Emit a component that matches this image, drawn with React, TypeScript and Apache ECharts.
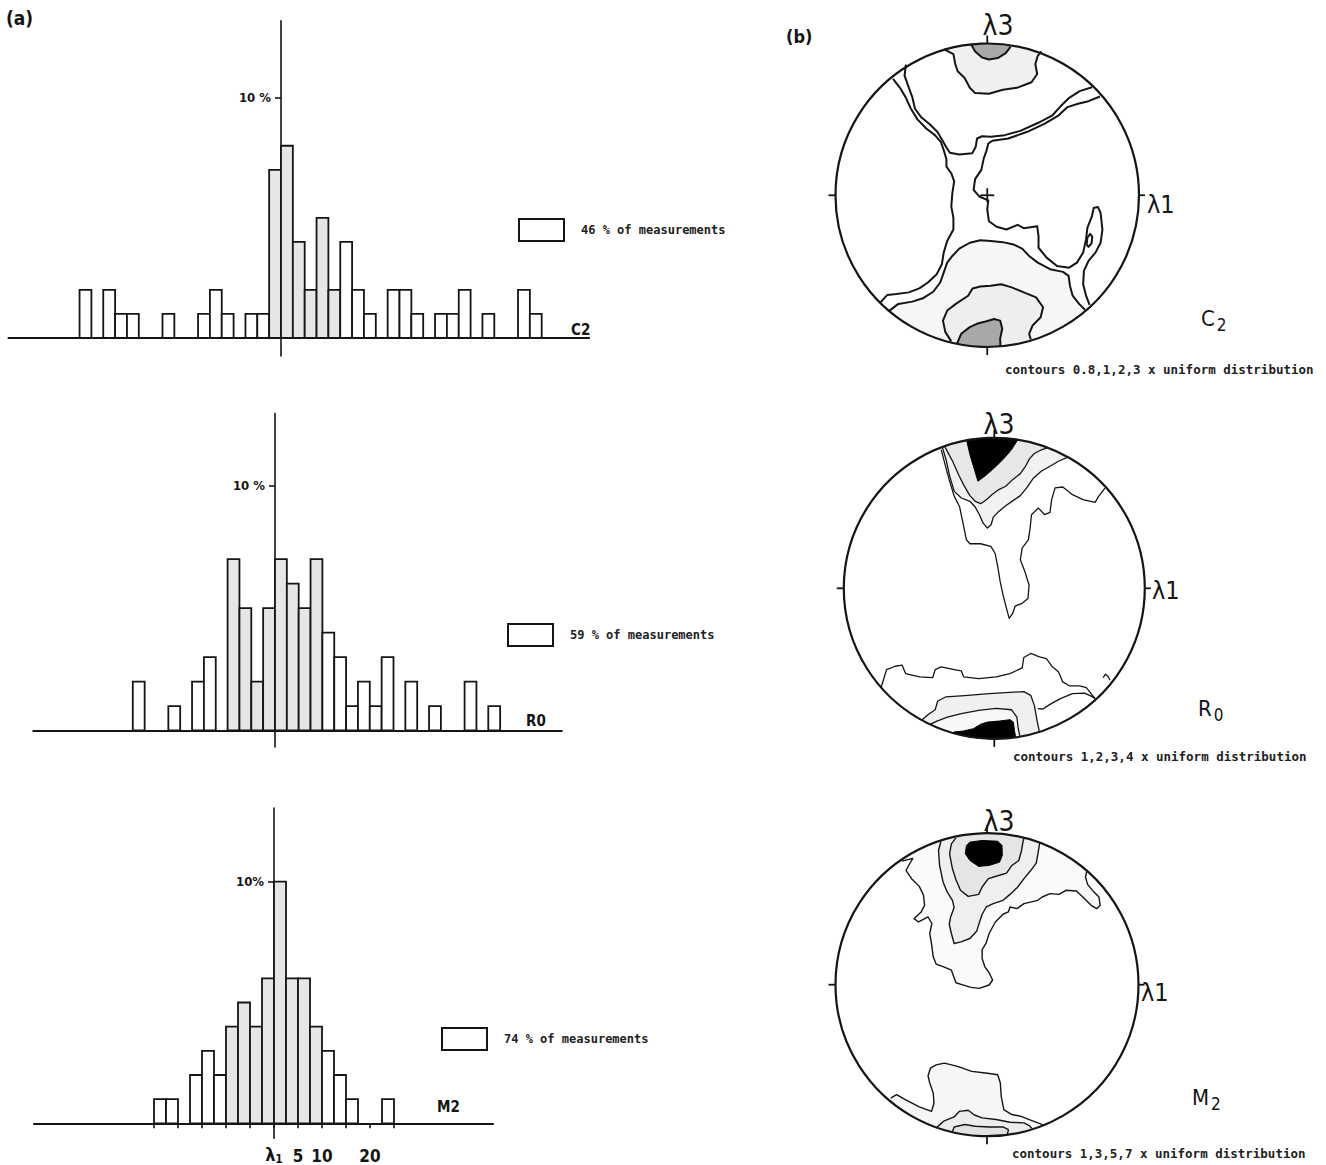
import React, { useEffect, useRef } from 'react';
import * as echarts from 'echarts';

// ---------------- Histogram data (bin index relative to λ1, % of measurements) -------------
const C2_BINS = [-17, -15, -14, -13, -10, -7, -6, -5, -3, -2, -1, 0, 1, 2, 3, 4, 5, 6, 7, 9, 10, 11, 13, 14, 15, 17, 20, 21];
const C2_VALUES = [2, 2, 1, 1, 1, 1, 2, 1, 1, 1, 7, 8, 4, 2, 5, 2, 4, 2, 1, 2, 2, 1, 1, 1, 2, 1, 2, 1];
const C2_SHADED = [-1, 0, 1, 2, 3, 4];

const R0_BINS = [-12, -9, -7, -6, -4, -3, -2, -1, 0, 1, 2, 3, 4, 5, 6, 7, 8, 9, 11, 13, 16, 18];
const R0_VALUES = [2, 1, 2, 3, 7, 5, 2, 5, 7, 6, 5, 7, 4, 3, 1, 2, 1, 3, 2, 1, 2, 1];
const R0_SHADED = [-4, -3, -2, -1, 0, 1, 2, 3];

const M2_BINS = [-10, -9, -7, -6, -5, -4, -3, -2, -1, 0, 1, 2, 3, 4, 5, 6, 9];
const M2_VALUES = [1, 1, 2, 3, 2, 4, 5, 4, 6, 10, 6, 6, 4, 3, 2, 1, 1];
const M2_SHADED = [-4, -3, -2, -1, 0, 1, 2, 3];

const M2_TICKS = [-10, -8, -6, -4, -2, 0, 2, 4, 6, 8, 10];
const M2_LABEL_VALUES = [2, 4, 8];
const M2_LABEL_TEXT = ['5', '10', '20'];

const LEGEND_TEXT = ['46 % of measurements', '59 % of measurements', '74 % of measurements'];

// ---------------- Stereonet contours (percent of net radius, x east, y north) -------------
const C2_CAP_TOP = [[-10.8, 99.6], [-8.0, 94.8], [-3.4, 90.8], [1.1, 89.5], [6.9, 90.4], [12.2, 93.7], [15.4, 98.0]];
const C2_T2 = [[-28.7, 96.3], [-22.3, 93.0], [-21.1, 86.5], [-19.5, 81.7], [-14.9, 77.3], [-11.5, 70.8], [-8.0, 67.3], [1.1, 66.9], [10.3, 69.5], [19.5, 70.8], [29.2, 74.5], [32.9, 79.9], [31.7, 86.5], [33.3, 91.9], [35.6, 94.8]];
const C2_L1 = [[-62.1, 76.7], [-57.5, 70.8], [-53.6, 64.2], [-50.3, 57.0], [-46.0, 50.0], [-40.2, 44.0], [-34.5, 39.6], [-30.6, 35.2], [-28.7, 29.8], [-26.9, 23.7], [-26.9, 18.9], [-23.7, 14.5], [-21.8, 9.1], [-23.0, 1.4], [-23.7, -7.3], [-22.3, -14.9], [-22.3, -22.6], [-26.4, -30.2], [-28.7, -37.8], [-29.9, -45.5], [-33.3, -52.0], [-39.1, -57.5], [-44.8, -61.4], [-51.7, -64.0], [-59.8, -65.1], [-66.0, -65.8], [-70.5, -70.8]];
const C2_L2 = [[-53.6, 86.0], [-54.5, 78.8], [-52.2, 72.3], [-49.4, 64.7], [-47.6, 57.0], [-43.7, 51.6], [-37.9, 46.8], [-32.9, 41.8], [-29.9, 36.8], [-26.9, 31.5], [-24.6, 28.0], [-18.4, 26.9], [-9.9, 27.6], [-7.6, 32.0], [-6.7, 37.4], [-3.4, 38.9], [2.3, 38.5], [11.5, 39.6], [21.8, 42.4], [33.3, 47.6], [43.0, 52.7], [48.3, 58.6], [54.0, 64.2], [60.9, 68.6], [69.0, 71.2]];
const C2_L3 = [[74.3, 65.1], [66.7, 62.0], [59.8, 60.3], [52.9, 58.1], [47.1, 52.7], [37.9, 47.2], [26.4, 41.8], [13.8, 37.4], [3.4, 35.9], [0.7, 34.1], [-0.7, 28.7], [-2.3, 24.3], [-3.9, 16.7], [-8.0, 10.6], [-9.0, 3.6], [-5.3, -0.8], [0.7, -3.4], [0, -9.5], [1.1, -17.1], [6.2, -20.8], [12.6, -22.6], [20.0, -19.5], [24.1, -21.7], [32.9, -20.4], [33.8, -26.9], [33.8, -34.6], [39.1, -41.1], [46.0, -46.6], [54.0, -47.7], [59.1, -44.4], [63.2, -37.8], [65.1, -29.1], [66.0, -21.5], [69.0, -13.8], [70.1, -8.4], [72.9, -7.7], [74.7, -11.7], [75.9, -22.6], [74.7, -31.3], [71.3, -37.8], [66.7, -43.3], [63.7, -49.8], [63.2, -58.6], [65.1, -66.2], [67.4, -72.3]];
const C2_LOOP = [[65.5, -32.4], [66.0, -28.0], [67.8, -25.4], [69.2, -27.4], [68.7, -31.8], [66.7, -34.0], [65.5, -32.4]];
const C2_L5 = [[-64.4, -76.0], [-58.6, -71.6], [-49.4, -70.1], [-42.5, -67.9], [-35.6, -63.6], [-31.0, -57.5], [-28.3, -49.8], [-26.4, -44.4], [-23.0, -40.0], [-18.4, -35.2], [-11.5, -31.3], [-4.6, -29.6], [2.3, -30.2], [10.3, -30.9], [17.2, -32.4], [23.0, -35.2], [27.6, -40.0], [33.3, -44.4], [41.4, -48.7], [49.9, -50.5], [53.6, -53.1], [54.5, -59.6], [56.3, -66.2], [60.5, -71.6], [64.4, -75.4]];
const C2_L6 = [[-23.7, -96.3], [-27.6, -90.2], [-29.2, -82.6], [-26.4, -76.0], [-20.7, -71.6], [-12.6, -66.2], [-9.7, -61.4], [-4.6, -60.1], [2.3, -59.6], [9.2, -58.6], [16.1, -60.7], [24.1, -64.0], [32.2, -67.3], [36.8, -73.8], [35.2, -80.4], [29.9, -85.8], [27.6, -91.3], [28.7, -95.0]];
const C2_L7 = [[-20.0, -97.9], [-17.2, -91.3], [-11.5, -86.9], [-6.9, -84.7], [-1.1, -83.2], [4.6, -81.5], [8.5, -82.6], [9.9, -88.0], [8.5, -94.5], [8.7, -99.3]];

const R0_BLACK_TOP = [[-18.5, 98.9], [-16.2, 88.9], [-13.2, 78.9], [-10.9, 71.1], [-5.8, 74.9], [0, 80.0], [5.8, 85.6], [11.5, 92.2], [15.7, 98.9]];
const R0_T3 = [[-33.0, 94.4], [-30.7, 90.0], [-27.7, 84.4], [-23.8, 75.6], [-20.1, 68.2], [-16.2, 61.6], [-12.7, 57.8], [-9.0, 56.2], [-5.3, 58.9], [-1.6, 62.2], [3.0, 65.6], [7.6, 67.8], [12.2, 72.2], [17.3, 76.2], [20.8, 81.1], [23.3, 86.0], [26.6, 89.6], [31.6, 92.2], [35.3, 93.3]];
const R0_T2 = [[-34.4, 93.3], [-32.1, 85.6], [-29.6, 74.4], [-26.6, 64.4], [-21.9, 60.0], [-16.2, 57.8], [-12.7, 54.0], [-9.9, 48.9], [-7.4, 43.3], [-4.6, 40.0], [-2.1, 42.2], [-0.7, 47.3], [3.0, 51.1], [7.6, 54.9], [12.7, 58.4], [17.3, 61.6], [21.5, 66.7], [26.1, 73.3], [31.2, 77.8], [37.0, 81.1], [42.7, 84.4], [49.2, 87.3]];
const R0_T1 = [[-35.3, 92.2], [-33.0, 83.3], [-30.0, 72.2], [-26.6, 61.1], [-23.1, 54.4], [-20.8, 43.3], [-18.5, 32.2], [-16.2, 29.6], [-9.2, 29.6], [-2.3, 27.8], [0.5, 23.3], [2.3, 14.4], [3.9, 4.4], [5.8, -4.4], [8.1, -13.3], [9.9, -20.0], [12.2, -16.7], [13.9, -11.8], [18.5, -10.0], [22.4, -6.7], [23.1, 2.2], [20.3, 11.1], [17.3, 18.9], [18.5, 26.7], [22.6, 32.2], [23.8, 40.0], [24.7, 48.9], [29.3, 53.3], [33.5, 48.9], [37.0, 50.4], [38.1, 58.9], [40.4, 66.7], [45.5, 67.3], [52.0, 62.2], [58.9, 58.9], [67.0, 57.1], [69.3, 61.1], [73.5, 66.5]];
const R0_B1 = [[-75.1, -65.6], [-71.6, -54.0], [-65.8, -51.8], [-61.2, -51.1], [-58.9, -56.7], [-49.7, -58.9], [-40.9, -59.3], [-39.3, -54.0], [-35.3, -52.2], [-26.6, -54.0], [-21.9, -54.9], [-20.3, -58.9], [-10.4, -60.0], [1.2, -58.9], [10.4, -56.7], [18.5, -52.9], [19.6, -46.0], [24.2, -43.3], [30.0, -45.6], [34.6, -46.7], [38.6, -52.2], [42.7, -55.6], [45.5, -62.2], [50.1, -64.9], [56.6, -64.9], [61.2, -66.0], [64.0, -69.6], [67.0, -73.3]];
const R0_CURL = [[72.3, -59.3], [73.9, -57.1], [75.5, -58.4], [76.9, -61.1]];
const R0_B2 = [[-48.5, -87.8], [-43.9, -83.8], [-39.3, -80.7], [-37.6, -74.9], [-32.3, -72.2], [-19.6, -71.3], [-3.5, -70.0], [10.4, -69.1], [19.6, -68.7], [24.2, -71.1], [26.6, -77.8], [28.4, -87.8], [30.0, -95.6]];
const R0_B2B = [[28.9, -80.0], [32.3, -80.2], [37.0, -77.1], [43.9, -73.3], [52.0, -70.0], [60.0, -69.6], [64.7, -71.8], [67.0, -73.3]];
const R0_B3 = [[-42.7, -90.4], [-38.1, -88.2], [-31.2, -85.6], [-21.9, -83.3], [-10.4, -81.1], [1.2, -79.8], [11.5, -80.7], [15.0, -85.6], [15.9, -93.3], [16.9, -97.8]];
const R0_BLACK_BOTTOM = [[-27.0, -95.5], [-20.8, -94.9], [-13.9, -93.3], [-9.2, -90.4], [-4.6, -88.9], [3.5, -88.2], [10.4, -87.3], [12.7, -88.9], [13.4, -94.4], [14.1, -98.4]];

const M2_BLACK = [[-13.6, 91.9], [-11.3, 94.1], [-3.2, 95.2], [7.1, 94.7], [9.9, 91.9], [10.1, 85.3], [8.3, 80.9], [1.4, 78.7], [-5.5, 78.1], [-11.3, 82.0], [-14.3, 86.4], [-13.6, 91.9]];
const M2_T5 = [[-20.5, 96.9], [-23.5, 93.0], [-24.7, 86.4], [-22.8, 76.5], [-20.5, 69.3], [-17.5, 62.3], [-12.4, 58.3], [-5.5, 59.6], [-3.2, 64.5], [0.9, 70.0], [7.1, 71.9], [12.9, 73.7], [16.4, 78.7], [21.0, 82.0], [22.8, 88.6], [23.7, 94.1], [24.4, 96.9]];
const M2_T3 = [[-30.4, 94.7], [-32.0, 88.6], [-31.3, 78.7], [-29.0, 67.8], [-26.3, 61.2], [-22.8, 55.7], [-21.7, 50.9], [-24.0, 44.7], [-24.9, 39.9], [-23.5, 33.8], [-21.7, 27.2], [-17.1, 28.3], [-11.3, 30.5], [-6.7, 35.5], [-5.1, 40.8], [-3.2, 46.5], [-0.5, 51.3], [4.1, 53.5], [10.6, 55.7], [15.2, 59.6], [20.3, 64.5], [24.4, 70.0], [28.6, 75.0], [32.5, 80.3], [33.6, 86.4], [34.8, 93.6]];
const M2_T1 = [[-56.2, 81.6], [-49.0, 83.4], [-51.5, 79.0], [-53.5, 75.4], [-49.8, 70.0], [-44.7, 64.9], [-41.9, 59.0], [-41.2, 52.4], [-43.5, 48.0], [-48.2, 43.6], [-45.2, 41.4], [-38.9, 44.7], [-36.4, 40.4], [-37.8, 33.8], [-36.6, 26.8], [-35.5, 18.4], [-33.6, 13.6], [-28.6, 11.8], [-23.5, 9.6], [-20.5, 1.3], [-17.1, 0.2], [-10.6, -1.8], [-5.1, -2.4], [1.4, -0.2], [3.7, 3.1], [1.4, 7.9], [-1.4, 11.8], [-3.2, 17.3], [-3.2, 23.2], [-0.5, 27.6], [1.4, 33.8], [5.5, 41.4], [10.6, 46.5], [14.1, 48.0], [15.2, 51.3], [19.8, 50.2], [24.4, 53.5], [33.6, 55.7], [36.4, 57.9], [41.7, 60.1], [47.5, 59.6], [52.1, 62.3], [59.0, 61.8], [63.6, 57.5], [68.7, 52.4], [72.4, 50.2], [74.7, 52.4], [73.9, 57.9], [70.0, 61.8], [66.4, 66.2], [65.0, 71.1], [65.9, 75.0]];
const M2_B1 = [[-63.6, -74.8], [-59.7, -72.6], [-53.9, -75.9], [-44.7, -80.7], [-36.6, -83.6], [-35.0, -78.1], [-35.5, -71.5], [-37.8, -64.9], [-38.9, -60.1], [-37.3, -55.0], [-33.6, -52.9], [-28.1, -51.8], [-19.4, -53.9], [-10.1, -57.2], [-0.9, -58.3], [7.1, -59.4], [8.8, -64.9], [9.4, -73.7], [11.1, -82.5], [16.4, -85.7], [22.1, -86.8], [27.9, -89.0], [33.6, -91.2], [38.2, -93.0]];
const M2_B3 = [[-33.0, -94.0], [-28.6, -90.1], [-21.7, -87.3], [-18.2, -83.6], [-12.4, -82.9], [-8.3, -86.0], [-3.2, -87.9], [6.0, -89.0], [15.2, -90.8], [24.4, -91.2], [27.9, -93.0], [29.5, -94.7]];
const M2_B5 = [[-22.8, -96.9], [-21.7, -93.9], [-14.7, -92.3], [-7.8, -93.4], [1.4, -93.9], [10.6, -93.9], [14.1, -95.6], [13.4, -99.1]];

// ---------------- styling constants ----------------
const INK = '#151515';
const NARROW = "'DejaVu Sans Condensed', 'Liberation Sans Narrow', 'DejaVu Sans', sans-serif";
const MONO = "'DejaVu Sans Mono', 'Liberation Mono', monospace";

function closeArc(pts: number[][]): number[][] {
  const a = pts[0];
  const b = pts[pts.length - 1];
  const ta = Math.atan2(a[1], a[0]);
  const tb = Math.atan2(b[1], b[0]);
  let d = ta - tb;
  while (d > Math.PI) d -= 2 * Math.PI;
  while (d < -Math.PI) d += 2 * Math.PI;
  const n = Math.max(2, Math.ceil(Math.abs(d) / 0.03));
  const arc: number[][] = [];
  for (let i = 0; i <= n; i++) {
    const t = tb + (d * i) / n;
    arc.push([100 * Math.cos(t), 100 * Math.sin(t)]);
  }
  return pts.concat(arc);
}

function histSeries(name: string, gi: number, bins: number[], vals: number[], shaded: number[]) {
  return {
    type: 'custom',
    name,
    xAxisIndex: gi,
    yAxisIndex: gi,
    coordinateSystem: 'cartesian2d',
    clip: false,
    itemStyle: { color: '#ffffff' },
    encode: { x: 0, y: 1 },
    data: bins.map((b, i) => [b, vals[i], shaded.includes(b) ? 1 : 0]),
    renderItem: (params: any, api: any) => {
      const x0 = api.value(0);
      const h = api.value(1);
      const s = api.value(2);
      const p1 = api.coord([x0, h]);
      const p2 = api.coord([x0 + 1, 0]);
      return {
        type: 'rect',
        shape: { x: p1[0], y: p1[1], width: p2[0] - p1[0], height: p2[1] - p1[1] },
        style: { fill: s ? '#e6e6e6' : '#ffffff', stroke: INK, lineWidth: 1.8 },
      };
    },
  };
}

function netSeries(gi: number, net: any) {
  return {
    type: 'custom',
    xAxisIndex: gi,
    yAxisIndex: gi,
    coordinateSystem: 'cartesian2d',
    clip: false,
    silent: true,
    data: [[0, 0]],
    renderItem: (params: any, api: any) => {
      const c = api.coord([0, 0]);
      const R = api.coord([100, 0])[0] - c[0];
      const P = (p: number[]) => api.coord(p);
      const children: any[] = [];
      net.fills.forEach((f: any) => {
        const pts = (f.closed ? f.pts : closeArc(f.pts)).map(P);
        children.push({ type: 'polygon', shape: { points: pts }, style: { fill: f.color, stroke: f.color === '#000000' ? '#000000' : 'none', lineWidth: 1 } });
      });
      net.lines.forEach((l: number[][]) => {
        children.push({ type: 'polyline', shape: { points: l.map(P) }, style: { stroke: INK, lineWidth: net.lw, fill: 'none', lineJoin: 'round' } });
      });
      children.push({ type: 'circle', shape: { cx: c[0], cy: c[1], r: R }, style: { fill: 'none', stroke: INK, lineWidth: 2.2 } });
      const tick = (x1: number, y1: number, x2: number, y2: number) =>
        children.push({ type: 'line', shape: { x1, y1, x2, y2 }, style: { stroke: INK, lineWidth: 1.8 } });
      tick(c[0] - R - 7, c[1], c[0] - R, c[1]);
      tick(c[0] + R, c[1], c[0] + R + 6, c[1]);
      tick(c[0], c[1] - R, c[0], c[1] - R - 8);
      tick(c[0], c[1] + R, c[0], c[1] + R + 8);
      if (net.cross) {
        tick(c[0] - 7, c[1], c[0] + 7, c[1]);
        tick(c[0], c[1] - 7, c[0], c[1] + 7);
      }
      return { type: 'group', children };
    },
  };
}

const NET_C2 = {
  lw: 2,
  cross: true,
  fills: [
    { pts: C2_T2, color: '#f0f0f0' },
    { pts: C2_CAP_TOP, color: '#a8a8a8' },
    { pts: C2_L5, color: '#f6f6f6' },
    { pts: C2_L6, color: '#eeeeee' },
    { pts: C2_L7, color: '#a8a8a8' },
  ],
  lines: [C2_L1, C2_L2, C2_T2, C2_CAP_TOP, C2_L3, C2_LOOP, C2_L5, C2_L6, C2_L7],
};
const NET_R0 = {
  lw: 1.3,
  cross: false,
  fills: [
    { pts: R0_T2, color: '#f2f2f2' },
    { pts: R0_T3, color: '#e7e7e7' },
    { pts: R0_BLACK_TOP, color: '#000000' },
    { pts: R0_B2, color: '#f0f0f0' },
    { pts: R0_B3, color: '#f7f7f7' },
    { pts: R0_BLACK_BOTTOM, color: '#000000' },
  ],
  lines: [R0_T1, R0_T2, R0_T3, R0_B1, R0_CURL, R0_B2, R0_B2B, R0_B3],
};
const NET_M2 = {
  lw: 1.4,
  cross: false,
  fills: [
    { pts: M2_T1, color: '#fafafa' },
    { pts: M2_T3, color: '#efefef' },
    { pts: M2_T5, color: '#e5e5e5' },
    { pts: M2_BLACK, color: '#000000', closed: true },
    { pts: M2_B1, color: '#f6f6f6' },
    { pts: M2_B3, color: '#ececec' },
    { pts: M2_B5, color: '#e2e2e2' },
  ],
  lines: [M2_T1, M2_T3, M2_T5, M2_B1, M2_B3, M2_B5],
};

// shift: pixel distance from the grid's left edge to the vertical (λ1) axis
function histY(gi: number, min: number, max: number, label: string, shift: number, extra: any = {}) {
  return {
    gridIndex: gi,
    type: 'value',
    min,
    max,
    position: 'left',
    offset: -shift,
    axisLine: { show: true, onZero: false, lineStyle: { color: INK, width: 1.6 } },
    axisTick: { show: true, customValues: [10], length: 6, lineStyle: { color: INK, width: 1.6 } },
    axisLabel: { show: true, customValues: [10], formatter: () => label, margin: 10, fontSize: 13, fontWeight: 'bold', color: INK, fontFamily: NARROW },
    splitLine: { show: false },
    ...extra,
  };
}

function histX(gi: number, min: number, max: number, extra: any = {}) {
  return {
    gridIndex: gi,
    type: 'value',
    min,
    max,
    axisLine: { show: true, onZero: true, lineStyle: { color: INK, width: 2 } },
    axisTick: { show: false },
    axisLabel: { show: false },
    splitLine: { show: false },
    ...extra,
  };
}

function netAxis(gi: number) {
  return { gridIndex: gi, type: 'value', min: -100, max: 100, show: false };
}

function legendFor(name: string, left: number, top: number) {
  return {
    data: [name],
    left,
    top,
    padding: 0,
    icon: 'rect',
    itemWidth: 45,
    itemHeight: 22,
    selectedMode: false,
    itemStyle: { color: '#ffffff', borderColor: INK, borderWidth: 2 },
    textStyle: { fontFamily: MONO, fontSize: 12, fontWeight: 'bold', color: '#222', padding: [0, 0, 0, 12] },
  };
}

function txt(text: string, x: number, y: number, size: number, extra: any = {}) {
  return {
    type: 'text',
    x,
    y,
    silent: true,
    style: { text, fontSize: size, fontFamily: NARROW, fill: INK, align: 'left', verticalAlign: 'middle', ...extra },
  };
}

const GRID_BASE = { outerBoundsMode: 'none', containLabel: false };

export default function App() {
  const ref = useRef<HTMLDivElement>(null);
  useEffect(() => {
    if (!ref.current) return;
    const chart = echarts.init(ref.current, null, { renderer: 'svg' });
    const subRich = { m: { fontSize: 22, fontFamily: NARROW, color: INK }, s: { fontSize: 17, fontFamily: NARROW, color: INK, padding: [14, 0, 0, 2] } };
    const monoStyle = { fontFamily: MONO, fontSize: 12.5, fontWeight: 'bold', fill: '#222' };
    const bold = { fontWeight: 'bold' };
    const option: any = {
      animation: false,
      backgroundColor: '#ffffff',
      grid: [
        { ...GRID_BASE, left: 8.45, top: 20.8, width: 580.65, height: 335.2 },
        { ...GRID_BASE, left: 33.26, top: 413.6, width: 528.5, height: 333.3 },
        { ...GRID_BASE, left: 34, top: 808, width: 459, height: 330.3 },
        { ...GRID_BASE, left: 835.5, top: 43.5, width: 303.5, height: 303.5 },
        { ...GRID_BASE, left: 843.8, top: 437.8, width: 301, height: 301 },
        { ...GRID_BASE, left: 835.5, top: 833.2, width: 303, height: 303 },
      ],
      xAxis: [
        histX(0, -23, 26),
        histX(1, -20.4, 24.2),
        histX(2, -20, 18.25, {
          axisTick: { show: true, customValues: M2_TICKS, length: 5, lineStyle: { color: INK, width: 1.6 } },
          axisLabel: {
            show: true,
            customValues: M2_LABEL_VALUES,
            formatter: (v: number) => M2_LABEL_TEXT[M2_LABEL_VALUES.indexOf(v)],
            margin: 9,
            fontSize: 17,
            fontWeight: 'bold',
            color: INK,
            fontFamily: NARROW,
          },
        }),
        netAxis(3),
        netAxis(4),
        netAxis(5),
      ],
      yAxis: [
        histY(0, -0.75, 13.2, '10 %', 23 * 11.85),
        histY(1, -0.67, 12.95, '10 %', 20.4 * 11.85),
        histY(2, -0.62, 13.05, '10%', 20 * 12, {
          name: '{l|λ}{s|1}',
          nameLocation: 'start',
          nameGap: 5,
          nameTextStyle: {
            rich: {
              l: { fontSize: 18, fontWeight: 'bold', fontFamily: NARROW, color: INK },
              s: { fontSize: 12, fontWeight: 'bold', fontFamily: NARROW, color: INK, padding: [10, 0, 0, 0] },
            },
          },
        }),
        netAxis(3),
        netAxis(4),
        netAxis(5),
      ],
      legend: [
        legendFor(LEGEND_TEXT[0], 518, 218),
        legendFor(LEGEND_TEXT[1], 507, 623),
        legendFor(LEGEND_TEXT[2], 441, 1027),
      ],
      series: [
        histSeries(LEGEND_TEXT[0], 0, C2_BINS, C2_VALUES, C2_SHADED),
        histSeries(LEGEND_TEXT[1], 1, R0_BINS, R0_VALUES, R0_SHADED),
        histSeries(LEGEND_TEXT[2], 2, M2_BINS, M2_VALUES, M2_SHADED),
        netSeries(3, NET_C2),
        netSeries(4, NET_R0),
        netSeries(5, NET_M2),
      ],
      graphic: [
        txt('(a)', 6, 18, 19, bold),
        txt('(b)', 786, 36, 18, bold),
        txt('C2', 571, 330, 15, bold),
        txt('R0', 526, 721, 15, bold),
        txt('M2', 437, 1107, 15, bold),
        txt('λ3', 998, 25, 28, { align: 'center' }),
        txt('λ3', 999, 424, 28, { align: 'center' }),
        txt('λ3', 999, 821, 28, { align: 'center' }),
        txt('λ1', 1147, 204, 25),
        txt('λ1', 1152, 590, 25),
        txt('λ1', 1141, 992, 25),
        txt('{m|C}{s|2}', 1201, 318, 22, { rich: subRich }),
        txt('{m|R}{s|0}', 1198, 708, 22, { rich: subRich }),
        txt('{m|M}{s|2}', 1192, 1097, 22, { rich: subRich }),
        txt('contours 0.8,1,2,3 x uniform distribution', 1005, 369, 12.5, monoStyle),
        txt('contours 1,2,3,4 x uniform distribution', 1013, 756, 12.5, monoStyle),
        txt('contours 1,3,5,7 x uniform distribution', 1012, 1153, 12.5, monoStyle),
      ],
    };
    chart.setOption(option);
    return () => chart.dispose();
  }, []);
  return <div ref={ref} style={{ position: 'absolute', left: 0, top: 0, width: 1326, height: 1165, background: '#fff' }} />;
}
